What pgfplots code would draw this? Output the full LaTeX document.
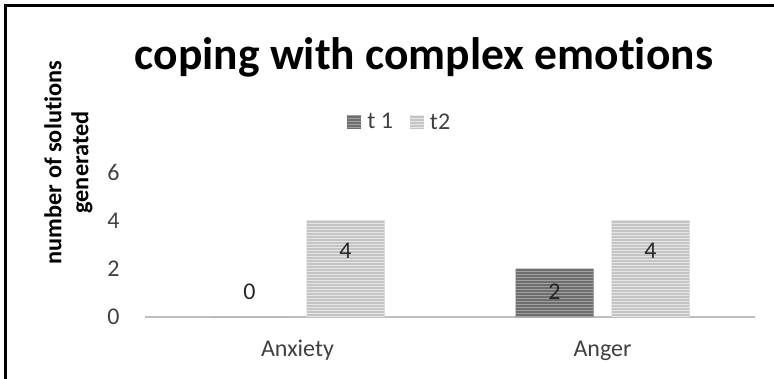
\documentclass[border=0pt]{standalone}
\usepackage{pgfplots}
\pgfplotsset{compat=1.18}
\usepackage{fontspec}
\setmainfont{Carlito}[Ligatures=NoCommon]
\usetikzlibrary{patterns}
\definecolor{tonedark}{RGB}{110,110,110}
\definecolor{tonedarkline}{RGB}{160,160,160}
\definecolor{tonelight}{RGB}{196,196,196}
\definecolor{tonelightline}{RGB}{230,230,230}
\definecolor{txt}{RGB}{64,64,64}
\pgfplotsset{my legend/.style={legend image code/.code={\path[##1,draw=none] (0bp,-7bp) rectangle (14bp,7bp);}}}
\begin{document}
\begin{tikzpicture}
\useasboundingbox (0bp,0bp) rectangle (774bp,379bp);
\draw[line width=3bp] (5.5bp,0bp) -- (5.5bp,373.7bp) -- (774bp,373.7bp);
\node[font=\bfseries\fontsize{45.5bp}{52bp}\selectfont, anchor=base] at (424bp,309bp) {coping with complex emotions};
\node[font=\bfseries\fontsize{24.3bp}{27bp}\selectfont, rotate=90, align=center] at (68.5bp,216.5bp) {number of solutions\\generated};
\begin{axis}[
  scale only axis, width=610bp, height=145bp,
  at={(145bp,62bp)}, anchor=south west,
  xmin=-0.5, xmax=1.5, ymin=0, ymax=6,
  ybar, bar width=78bp,
  xtick={0,1}, xticklabels={Anxiety,Anger},
  ytick={0,2,4,6},
  major tick length=0pt,
  axis x line=bottom, axis y line=left,
  x axis line style={-, draw=black!25, line width=2.5bp},
  y axis line style={draw=none},
  tick label style={font=\fontsize{24bp}{28bp}\selectfont, text=txt},
  yticklabel style={xshift=-22bp},
  xticklabel style={yshift=-20bp, text height=16bp, text depth=5bp},
  /pgf/number format/assume math mode=true,
  legend style={at={(0.416,1.345)}, anchor=center, draw=none, fill=none,
    font=\fontsize{24bp}{28bp}\selectfont, text=txt,
    nodes={inner sep=0pt},
    /tikz/every odd column/.append style={column sep=6bp},
    /tikz/every even column/.append style={column sep=17bp}},
  legend columns=2,
  legend cell align=left,
  every axis plot post/.append style={my legend},
  clip=false,
]
\addplot[bar shift=-48bp, draw=none, preaction={fill=tonedark}, pattern=horizontal lines, pattern color=tonedarkline]
  coordinates {(0,0) (1,2)};
\addlegendentry{t 1}
\addplot[bar shift=48bp, draw=none, preaction={fill=tonelight}, pattern=horizontal lines, pattern color=tonelightline]
  coordinates {(0,4) (1,4)};
\addlegendentry{t2}
\addplot[forget plot, bar shift=0pt, draw=none, fill=none, nodes near coords, point meta=explicit symbolic,
  every node near coord/.style={anchor=center, xshift=-48bp, font=\fontsize{24bp}{28bp}\selectfont, text=black!85}]
  coordinates {(0,1.03)[0] (1,1.03)[2]};
\addplot[forget plot, bar shift=0pt, draw=none, fill=none, nodes near coords, point meta=explicit symbolic,
  every node near coord/.style={anchor=center, xshift=48bp, font=\fontsize{24bp}{28bp}\selectfont, text=black!85}]
  coordinates {(0,2.75)[4] (1,2.75)[4]};
\end{axis}
\end{tikzpicture}
\end{document}
